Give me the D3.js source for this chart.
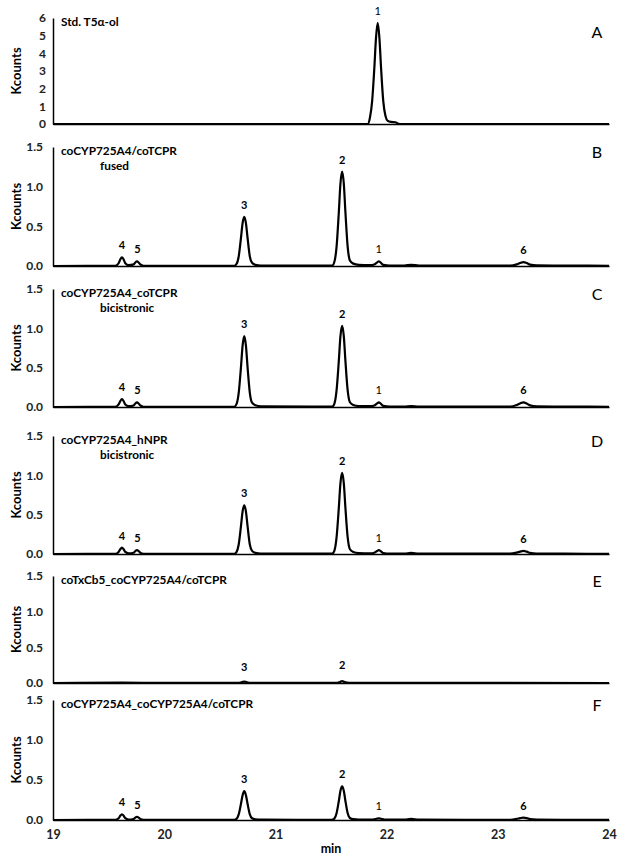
<!DOCTYPE html>
<html>
<head>
<meta charset="utf-8">
<script src="https://cdn.jsdelivr.net/npm/d3@7"></script>
<style>
  body { margin: 0; background: #fff; }
  text { font-family: Lato, "Open Sans", sans-serif; }
</style>
</head>
<body>
<div id="chart"></div>
<script>
// ---- data ----
var panelLetters = ["A", "B", "C", "D", "E", "F"];
var panelTitles = [
  ["Std. T5α-ol"],
  ["coCYP725A4/coTCPR", "fused"],
  ["coCYP725A4_coTCPR", "bicistronic"],
  ["coCYP725A4_hNPR", "bicistronic"],
  ["coTxCb5_coCYP725A4/coTCPR"],
  ["coCYP725A4_coCYP725A4/coTCPR"]
];
var yMax = [6, 1.5, 1.5, 1.5, 1.5, 1.5];
var yTicksStd = [0, 1, 2, 3, 4, 5, 6];
var yTicksSample = [0, 0.5, 1.0, 1.5];
var xTicks = [19, 20, 21, 22, 23, 24];

// [min, Kcounts]
var traceA = [[19,0],[21.00,0],[21.83,0],[21.85,0.35],[21.87,1.3],[21.89,3.2],[21.905,4.9],[21.92,5.72],
  [21.935,4.9],[21.95,3.2],[21.97,1.3],[21.99,0.45],[22.01,0.18],[22.04,0.12],[22.08,0.1],[22.10,0.02],[22.12,0],[24,0]];

var traceB = [[19,0],[19.56,0.002],[19.59,0.035],[19.605,0.083],[19.62,0.11],[19.635,0.083],[19.65,0.035],[19.68,0.01],
  [19.725,0.02],[19.74,0.045],[19.755,0.06],[19.77,0.045],[19.785,0.02],[19.815,0.003],
  [20.63,0.003],[20.65,0.025],[20.67,0.12],[20.69,0.35],[20.705,0.54],[20.72,0.62],[20.735,0.54],[20.75,0.35],[20.77,0.12],[20.79,0.04],[20.82,0.015],[20.87,0.006],
  [21.51,0.004],[21.53,0.05],[21.55,0.24],[21.57,0.67],[21.585,1.04],[21.60,1.19],[21.615,1.04],[21.63,0.67],[21.65,0.24],[21.67,0.07],[21.70,0.03],[21.75,0.015],[21.85,0.01],
  [21.89,0.02],[21.915,0.045],[21.93,0.06],[21.945,0.045],[21.97,0.015],[22.03,0.005],
  [22.16,0.005],[22.22,0.015],[22.29,0.005],
  [23.11,0.004],[23.17,0.02],[23.20,0.038],[23.23,0.05],[23.26,0.038],[23.29,0.018],[23.35,0.008],[23.6,0.005],[24,0.003]];

var traceC = [[19,0],[19.56,0.002],[19.59,0.032],[19.605,0.075],[19.62,0.10],[19.635,0.075],[19.65,0.032],[19.68,0.01],
  [19.725,0.02],[19.74,0.045],[19.755,0.06],[19.77,0.045],[19.785,0.02],[19.815,0.003],
  [20.63,0.003],[20.65,0.036],[20.67,0.18],[20.69,0.5],[20.705,0.78],[20.72,0.90],[20.735,0.78],[20.75,0.5],[20.77,0.18],[20.79,0.055],[20.82,0.022],[20.87,0.009],
  [21.51,0.004],[21.53,0.04],[21.55,0.21],[21.57,0.58],[21.585,0.9],[21.60,1.03],[21.615,0.9],[21.63,0.58],[21.65,0.21],[21.67,0.06],[21.70,0.026],[21.75,0.012],[21.85,0.01],
  [21.89,0.02],[21.915,0.045],[21.93,0.06],[21.945,0.045],[21.97,0.015],[22.03,0.005],
  [22.16,0.004],[22.22,0.012],[22.29,0.004],
  [23.11,0.004],[23.17,0.025],[23.20,0.045],[23.23,0.06],[23.26,0.045],[23.29,0.02],[23.35,0.008],[23.6,0.005],[24,0.003]];

var traceD = [[19,0],[19.56,0.002],[19.59,0.026],[19.605,0.06],[19.62,0.08],[19.635,0.06],[19.65,0.026],[19.68,0.008],
  [19.725,0.016],[19.74,0.038],[19.755,0.05],[19.77,0.038],[19.785,0.016],[19.815,0.003],
  [20.63,0.003],[20.65,0.025],[20.67,0.12],[20.69,0.35],[20.705,0.54],[20.72,0.62],[20.735,0.54],[20.75,0.35],[20.77,0.12],[20.79,0.04],[20.82,0.015],[20.87,0.006],
  [21.51,0.004],[21.53,0.04],[21.55,0.21],[21.57,0.58],[21.585,0.9],[21.60,1.03],[21.615,0.9],[21.63,0.58],[21.65,0.21],[21.67,0.06],[21.70,0.026],[21.75,0.012],[21.85,0.008],
  [21.89,0.016],[21.915,0.038],[21.93,0.05],[21.945,0.038],[21.97,0.012],[22.03,0.004],
  [22.16,0.005],[22.22,0.015],[22.29,0.005],
  [23.11,0.004],[23.17,0.018],[23.20,0.03],[23.23,0.04],[23.26,0.03],[23.29,0.014],[23.35,0.006],[23.6,0.004],[24,0.002]];

var traceE = [[19,0],[19.62,0.004],[20.0,0.002],[20.66,0.002],[20.70,0.012],[20.72,0.02],[20.74,0.012],[20.78,0.002],
  [21.55,0.002],[21.58,0.015],[21.60,0.025],[21.62,0.015],[21.66,0.003],[22.0,0.002],[24,0]];

var traceF = [[19,0],[19.56,0.002],[19.59,0.022],[19.605,0.053],[19.62,0.07],[19.635,0.053],[19.65,0.022],[19.68,0.006],
  [19.725,0.013],[19.74,0.03],[19.755,0.04],[19.77,0.03],[19.785,0.013],[19.815,0.002],
  [20.63,0.002],[20.65,0.014],[20.67,0.07],[20.69,0.2],[20.705,0.31],[20.72,0.36],[20.735,0.31],[20.75,0.2],[20.77,0.07],[20.79,0.022],[20.82,0.009],[20.87,0.004],
  [21.51,0.003],[21.53,0.017],[21.55,0.084],[21.57,0.235],[21.585,0.365],[21.60,0.42],[21.615,0.365],[21.63,0.235],[21.65,0.084],[21.67,0.025],[21.70,0.01],[21.75,0.006],
  [21.88,0.006],[21.91,0.016],[21.93,0.02],[21.95,0.016],[21.98,0.005],
  [22.16,0.004],[22.22,0.014],[22.29,0.004],
  [23.11,0.003],[23.17,0.014],[23.20,0.024],[23.23,0.03],[23.26,0.024],[23.29,0.01],[23.35,0.005],[24,0.002]];

var traces = [traceA, traceB, traceC, traceD, traceE, traceF];

// peak annotations: [label, min, apex Kcounts]
var peaksA = [["1", 21.92, 5.72]];
var peaksB = [["4", 19.62, 0.11], ["5", 19.76, 0.06], ["3", 20.72, 0.62], ["2", 21.60, 1.19], ["1", 21.93, 0.06], ["6", 23.23, 0.05]];
var peaksC = [["4", 19.62, 0.10], ["5", 19.76, 0.06], ["3", 20.72, 0.90], ["2", 21.60, 1.03], ["1", 21.93, 0.06], ["6", 23.23, 0.06]];
var peaksD = [["4", 19.62, 0.08], ["5", 19.76, 0.05], ["3", 20.72, 0.62], ["2", 21.60, 1.03], ["1", 21.93, 0.05], ["6", 23.23, 0.04]];
var peaksE = [["3", 20.72, 0.06], ["2", 21.60, 0.08]];
var peaksF = [["4", 19.62, 0.07], ["5", 19.76, 0.04], ["3", 20.72, 0.36], ["2", 21.60, 0.42], ["1", 21.93, 0.02], ["6", 23.23, 0.03]];
var peaks = [peaksA, peaksB, peaksC, peaksD, peaksE, peaksF];

// ---- layout ----
var width = 624, height = 858;
var left = 53, right = 609;
var panelTop = [18, 147, 289, 436, 576, 700];
var panelBottom = [124, 266, 407, 554, 683, 820];

var svg = d3.select("#chart").append("svg")
  .attr("width", width)
  .attr("height", height)
  .style("background", "#fff");

var x = d3.scaleLinear().domain([19, 24]).range([left, right]);

panelLetters.forEach(function(letter, i) {
  var y = d3.scaleLinear().domain([0, yMax[i]]).range([panelBottom[i], panelTop[i]]);
  var g = svg.append("g").attr("class", "panel panel-" + letter);

  // y axis
  var yAxis = d3.axisLeft(y)
    .tickValues(i === 0 ? yTicksStd : yTicksSample)
    .tickFormat(i === 0 ? d3.format("d") : d3.format(".1f"))
    .tickSize(0)
    .tickPadding(i === 0 ? 7 : 10);
  var ya = g.append("g").attr("transform", "translate(" + left + ",0)").call(yAxis);
  ya.select(".domain").attr("stroke", "#000").attr("stroke-width", 1.5);
  ya.selectAll("text").attr("font-size", 12).attr("font-weight", "bold").attr("fill", "#222")
    .style("font-family", "Lato, sans-serif");

  // x axis (labels only on the last panel)
  var xAxis = d3.axisBottom(x).tickValues(xTicks).tickFormat(d3.format("d")).tickSize(0).tickPadding(10);
  var xa = g.append("g").attr("transform", "translate(0," + y(0) + ")").call(xAxis);
  xa.select(".domain").attr("stroke", "#000").attr("stroke-width", 1.5);
  xa.selectAll("text").attr("font-size", 12.5).attr("font-weight", "bold").attr("fill", "#222")
    .style("font-family", "Lato, sans-serif")
    .style("display", i === 5 ? null : "none");

  // trace
  var line = d3.line()
    .x(function(d) { return x(d[0]); })
    .y(function(d) { return y(d[1]); })
    .curve(d3.curveMonotoneX);
  g.append("path")
    .datum(traces[i])
    .attr("fill", "none")
    .attr("stroke", "#000")
    .attr("stroke-width", 2.2)
    .attr("stroke-linejoin", "round")
    .attr("d", line);

  // peak numbers
  g.selectAll(".peak")
    .data(peaks[i]).enter()
    .append("text")
    .attr("class", "peak")
    .attr("x", function(d) { return x(d[1]); })
    .attr("y", function(d) { return y(d[2]) - 8; })
    .attr("text-anchor", "middle")
    .attr("font-size", 11)
    .attr("font-weight", function(d) { return d[0] === "1" ? "normal" : "bold"; })
    .text(function(d) { return d[0]; });

  // title
  var title = g.append("text")
    .attr("x", 61)
    .attr("y", panelTop[i] + 8)
    .attr("font-size", 11.8)
    .attr("font-weight", "bold");
  title.append("tspan").attr("x", 61).text(panelTitles[i][0]);
  if (panelTitles[i].length > 1) {
    title.append("tspan").attr("x", 100).attr("dy", 15).text(panelTitles[i][1]);
  }

  // panel letter
  g.append("text")
    .attr("x", 597)
    .attr("y", i === 0 ? 38 : panelTop[i] + 11)
    .attr("text-anchor", "middle")
    .attr("font-size", 16)
    .text(letter);

  // Kcounts
  var mid = (panelTop[i] + panelBottom[i]) / 2;
  g.append("text")
    .attr("transform", "translate(21," + mid + ")rotate(-90)")
    .attr("text-anchor", "middle")
    .attr("font-size", 13)
    .attr("font-weight", "bold")
    .text("Kcounts");
});

svg.append("text")
  .attr("x", (left + right) / 2)
  .attr("y", 853)
  .attr("text-anchor", "middle")
  .attr("font-size", 12.5)
  .attr("font-weight", "bold")
  .text("min");
</script>
</body>
</html>
